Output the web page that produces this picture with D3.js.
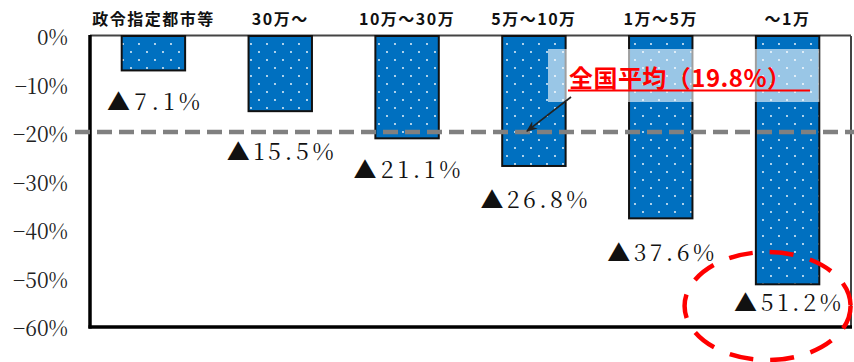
<!DOCTYPE html>
<html>
<head>
<meta charset="utf-8">
<script src="https://cdn.jsdelivr.net/npm/d3@7"></script>
<style>
  html, body { margin: 0; padding: 0; background: #fff; }
  svg { display: block; }
</style>
</head>
<body>
<svg id="chart" width="854" height="362"></svg>
<script>
// ---- data ----
const categories = ["政令指定都市等", "30万～", "10万～30万", "5万～10万", "1万～5万", "～1万"];
const values = [-7.1, -15.5, -21.1, -26.8, -37.6, -51.2];
const valueLabels = ["▲7.1%", "▲15.5%", "▲21.1%", "▲26.8%", "▲37.6%", "▲51.2%"];
const yTicks = [0, -10, -20, -30, -40, -50, -60];
const nationalAverage = -19.8;
const averageLabel = "全国平均（19.8%）";

// ---- layout ----
const W = 854, H = 362;
const plot = { left: 90, right: 851, top: 36, bottom: 327 };
const labelDy = [32, 41, 32, 34, 35, 19];
const SERIF = "'Noto Serif CJK JP', 'Noto Serif CJK SC', serif";
const GOTHIC = "'Noto Sans CJK JP', sans-serif";

const svg = d3.select("#chart");

const x = d3.scaleBand()
  .domain(categories)
  .range([plot.left, plot.right])
  .paddingInner(0.5)
  .paddingOuter(0.25);

const y = d3.scaleLinear()
  .domain([0, -60])
  .range([plot.top, plot.bottom]);

// pattern
const defs = svg.append("defs");
const pat = defs.append("pattern")
  .attr("id", "dots")
  .attr("patternUnits", "userSpaceOnUse")
  .attr("x", 0).attr("y", 0)
  .attr("width", 16).attr("height", 16);
pat.append("rect").attr("width", 16).attr("height", 16).attr("fill", "#0070C0");
pat.append("circle").attr("cx", 3).attr("cy", 4).attr("r", 0.9).attr("fill", "#ffffff");
pat.append("circle").attr("cx", 11).attr("cy", 12).attr("r", 0.9).attr("fill", "#ffffff");

// plot border (top / right thin)
svg.append("line")
  .attr("x1", plot.left).attr("x2", plot.right)
  .attr("y1", plot.top - 0.5).attr("y2", plot.top - 0.5)
  .attr("stroke", "#444").attr("stroke-width", 2);
svg.append("line")
  .attr("x1", plot.right).attr("x2", plot.right)
  .attr("y1", plot.top).attr("y2", plot.bottom)
  .attr("stroke", "#444").attr("stroke-width", 2);

// bars
svg.append("g").selectAll("rect")
  .data(values)
  .join("rect")
  .attr("x", (d, i) => x(categories[i]))
  .attr("y", y(0))
  .attr("width", x.bandwidth())
  .attr("height", d => y(d) - y(0))
  .attr("fill", "url(#dots)")
  .attr("stroke", "#111")
  .attr("stroke-width", 2);

// y axis
const yAxis = d3.axisLeft(y)
  .tickValues(yTicks)
  .tickSize(0)
  .tickPadding(22)
  .tickFormat(d => d === 0 ? "0%" : "\u2212" + Math.abs(d) + "%");
const gy = svg.append("g")
  .attr("transform", `translate(${plot.left},0)`)
  .call(yAxis);
gy.select(".domain").remove();
gy.selectAll("text")
  .attr("dy", "0.42em")
  .attr("fill", "#222")
  .style("font-family", SERIF)
  .style("font-size", "21px");

// thick left and bottom axis lines
svg.append("line")
  .attr("x1", plot.left).attr("x2", plot.left)
  .attr("y1", plot.top - 1).attr("y2", plot.bottom + 1.5)
  .attr("stroke", "#000").attr("stroke-width", 3.5);
svg.append("line")
  .attr("x1", plot.left - 1.5).attr("x2", plot.right + 1)
  .attr("y1", plot.bottom).attr("y2", plot.bottom)
  .attr("stroke", "#000").attr("stroke-width", 3.5);

// category labels (top)
svg.append("g").selectAll("text")
  .data(categories)
  .join("text")
  .attr("x", d => x(d) + x.bandwidth() / 2)
  .attr("y", 25)
  .attr("text-anchor", "middle")
  .style("font-family", GOTHIC)
  .style("font-size", "16px")
  .style("font-weight", "bold")
  .style("letter-spacing", "1.5px")
  .attr("fill", "#111")
  .text(d => d);

// national average dashed line
svg.append("line")
  .attr("x1", 75).attr("x2", W)
  .attr("y1", y(nationalAverage)).attr("y2", y(nationalAverage))
  .attr("stroke", "#808080")
  .attr("stroke-width", 4.5)
  .attr("stroke-dasharray", "15,7");

// translucent annotation box
svg.append("rect")
  .attr("x", 548).attr("y", 49)
  .attr("width", x(categories[5]) + x.bandwidth() - 548)
  .attr("height", 53)
  .attr("fill", "#ffffff")
  .attr("fill-opacity", 0.6);

// annotation text
svg.append("text")
  .attr("x", 569).attr("y", 87)
  .attr("fill", "#ff0000")
  .style("font-family", GOTHIC)
  .style("font-size", "24px")
  .style("font-weight", "bold")
  .attr("textLength", 222)
  .attr("lengthAdjust", "spacing")
  .text(averageLabel);
svg.append("line")
  .attr("x1", 568).attr("x2", 810)
  .attr("y1", 90.5).attr("y2", 90.5)
  .attr("stroke", "#ff0000").attr("stroke-width", 2);

// arrow
defs.append("marker")
  .attr("id", "arrowhead")
  .attr("viewBox", "0 0 10 10")
  .attr("refX", 9).attr("refY", 5)
  .attr("markerWidth", 7).attr("markerHeight", 7)
  .attr("markerUnits", "strokeWidth")
  .attr("orient", "auto")
  .append("path")
  .attr("d", "M0,1 L10,5 L0,9 L3,5 Z")
  .attr("fill", "#222");
svg.append("line")
  .attr("x1", 571).attr("y1", 97)
  .attr("x2", 527).attr("y2", y(nationalAverage) - 1)
  .attr("stroke", "#222")
  .attr("stroke-width", 1.6)
  .attr("marker-end", "url(#arrowhead)");

// value labels
svg.append("g").selectAll("text")
  .data(valueLabels)
  .join("text")
  .attr("x", (d, i) => x(categories[i]) + x.bandwidth() / 2)
  .attr("y", (d, i) => y(values[i]) + labelDy[i] + 8)
  .attr("text-anchor", "middle")
  .attr("fill", "#111")
  .style("font-family", SERIF)
  .style("font-size", "23px")
  .attr("textLength", d => 51 + 14 * (d.length - 2))
  .attr("lengthAdjust", "spacing")
  .text(d => d);

// red dashed ellipse highlighting smallest group
const lastCx = x(categories[5]) + x.bandwidth() / 2;
svg.append("ellipse")
  .attr("cx", lastCx - 20).attr("cy", 306)
  .attr("rx", 83).attr("ry", 54)
  .attr("fill", "none")
  .attr("stroke", "#ff0000")
  .attr("stroke-width", 4.5)
  .attr("stroke-dasharray", "24,17");
</script>
</body>
</html>
